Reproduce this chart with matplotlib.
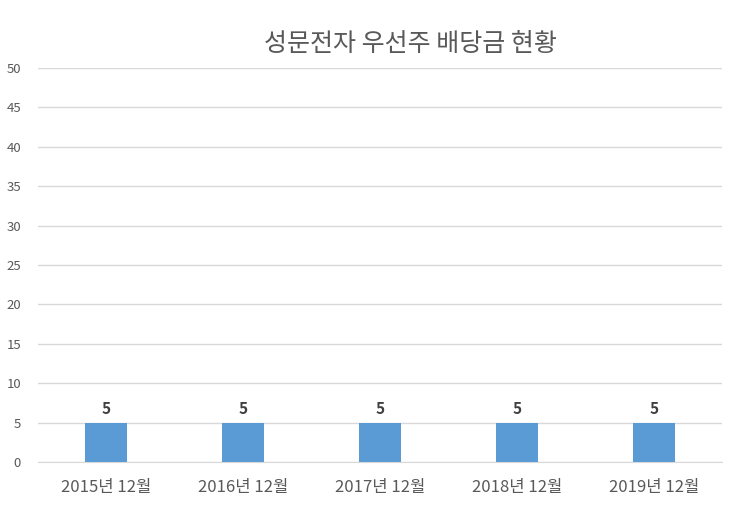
import matplotlib.pyplot as plt

plt.rcParams['font.family'] = ['Noto Sans CJK KR', 'DejaVu Sans']

categories = ['2015년 12월', '2016년 12월', '2017년 12월', '2018년 12월', '2019년 12월']
dividends = [5, 5, 5, 5, 5]
y_ticks = [0, 5, 10, 15, 20, 25, 30, 35, 40, 45, 50]
title = '성문전자 우선주 배당금 현황'

fig = plt.figure(figsize=(7.4, 5.16), dpi=100, facecolor='white')
ax = fig.add_axes([0.051, 0.1047, 0.925, 0.7633])

x = range(len(categories))
bars = ax.bar(x, dividends, width=0.31, color='#5B9BD5', zorder=3)

ax.set_xlim(-0.5, len(categories) - 0.5)
ax.set_ylim(0, 50)
ax.set_yticks(y_ticks)
ax.set_xticks(list(x))
ax.set_xticklabels(categories)
ax.tick_params(axis='y', length=0, labelsize=9.5, colors='#595959', pad=12)
ax.tick_params(axis='x', length=0, labelsize=12, colors='#595959', pad=12)
ax.grid(axis='y', color='#D9D9D9', linewidth=1, zorder=0)
for s in ['top', 'right', 'left']:
    ax.spines[s].set_visible(False)
ax.spines['bottom'].set_color('#D9D9D9')

for b, v in zip(bars, dividends):
    ax.annotate(str(v), (b.get_x() + b.get_width() / 2, v), xytext=(0, 4),
                textcoords='offset points', ha='center', va='bottom',
                fontsize=11, fontweight='bold', color='#404040')

fig.text(0.555, 0.915, title, ha='center', va='center', fontsize=18, color='#595959')

fig.savefig('out.png', dpi=100)
